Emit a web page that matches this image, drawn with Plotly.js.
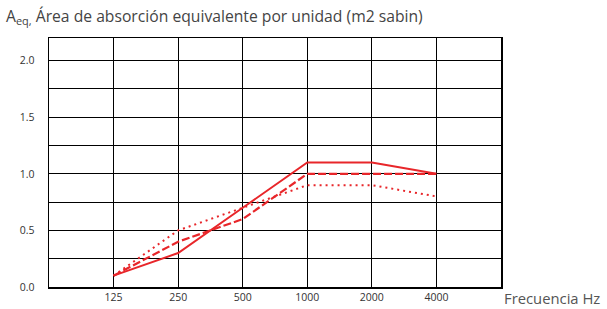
<!DOCTYPE html>
<html><head><meta charset="utf-8">
<script src="https://cdn.plot.ly/plotly-3.0.1.min.js"></script>
<style>html,body{margin:0;padding:0;background:#fff}#chart{width:607px;height:309px}</style>
</head><body><div id="chart"></div>
<script>
const categories = ['125','250','500','1000','2000','4000'];
const solidValues = [0.1, 0.3, 0.7, 1.1, 1.1, 1.0];
const dashedValues = [0.1, 0.4, 0.6, 1.0, 1.0, 1.0];
const dottedValues = [0.1, 0.5, 0.7, 0.9, 0.9, 0.8];
const yTickVals = [0, 0.5, 1.0, 1.5, 2.0];
const yTickText = ['0.0','0.5','1.0','1.5','2.0'];

const xIdx = categories.map((c,i)=>i+1);
const red = '#e8262a';
const traces = [
  {x:xIdx, y:solidValues, mode:'lines', line:{color:red, width:2, dash:'solid'}, hoverinfo:'skip'},
  {x:xIdx, y:dashedValues, mode:'lines', line:{color:red, width:2.2, dash:'8px,3px'}, hoverinfo:'skip'},
  {x:xIdx, y:dottedValues, mode:'lines', line:{color:red, width:2, dash:'2px,4px'}, hoverinfo:'skip'}
];
const layout = {
  width:607, height:309,
  margin:{l:49, r:106, t:38, b:22},
  paper_bgcolor:'#fff', plot_bgcolor:'#fff',
  showlegend:false,
  font:{family:'Open Sans, sans-serif', color:'#333'},
  xaxis:{range:[0,7], tickvals:xIdx, ticktext:categories, showgrid:true, gridcolor:'#000', gridwidth:1,
    zeroline:false, showline:true, linecolor:'#000', linewidth:1.5, mirror:true,
    ticks:'', tickfont:{size:10.5, color:'#333', family:'Open Sans, sans-serif'}, fixedrange:true},
  yaxis:{range:[0,2.2], tickvals:yTickVals, ticktext:yTickText, showgrid:true, gridcolor:'#000', gridwidth:1,
    zeroline:false, showline:true, linecolor:'#000', linewidth:1.5, mirror:true, ticklabelstandoff:11,
    ticks:'', tickfont:{size:10.5, color:'#333', family:'Open Sans, sans-serif'}, fixedrange:true,
    minor:{tickvals:[0.25,0.75,1.25,1.75], showgrid:true, gridcolor:'#000', gridwidth:1}},
  annotations:[
    {xref:'paper', yref:'paper', x:-0.1, y:1.0, yshift:8, xanchor:'left', yanchor:'bottom', showarrow:false,
     text:'A<sub>eq,</sub> Área de absorción equivalente por unidad (m2 sabin)', font:{size:15.7, color:'#444', family:'Open Sans, sans-serif'}},
    {xref:'paper', yref:'paper', x:1.0, y:0, xshift:1, yshift:1, xanchor:'left', yanchor:'top', showarrow:false,
     text:'Frecuencia Hz', font:{size:14.8, color:'#555', family:'Open Sans, sans-serif'}}
  ]
};
Plotly.newPlot('chart', traces, layout, {staticPlot:true, displayModeBar:false});
</script></body></html>
